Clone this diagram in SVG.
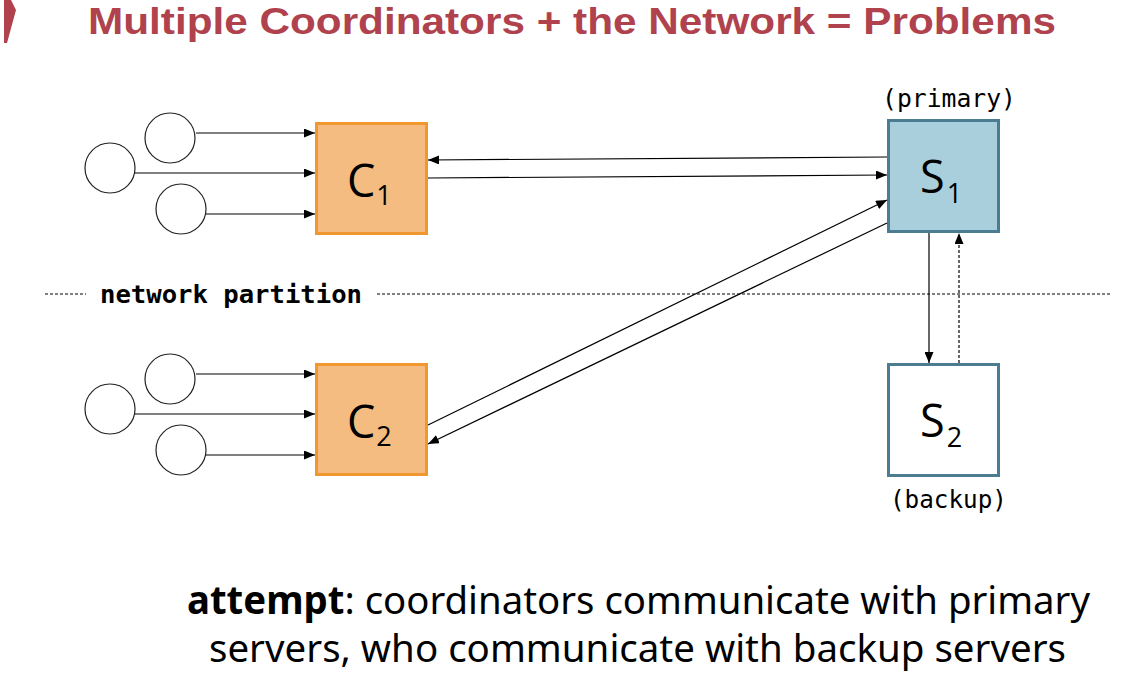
<svg xmlns="http://www.w3.org/2000/svg" width="1130" height="674" viewBox="0 0 1130 674">
<style>
.title{font-family:"Liberation Sans",Arial,sans-serif;font-weight:bold;font-size:36px;fill:#B0424D}
.circ{fill:#fff;stroke:#222;stroke-width:1.2}
.cbox{fill:#F4BC80;stroke:#F0972F;stroke-width:3}
.sbox1{fill:#A9CEDC;stroke:#4B7C91;stroke-width:3}
.sbox2{fill:#fff;stroke:#4B7C91;stroke-width:3}
.lbl{font-family:"Open Sans","Noto Sans",sans-serif;fill:#000}
.big{font-size:45px}
.sub{font-size:27px}
.mono{font-family:"DejaVu Sans Mono","Liberation Mono",monospace;font-size:25px;fill:#000}
.monob{font-family:"DejaVu Sans Mono","Liberation Mono",monospace;font-size:25px;font-weight:bold;fill:#000}
.conn line{stroke:#000;stroke-width:1.2;fill:none}
.dash{stroke:#000;stroke-width:1;stroke-dasharray:3 2;fill:none}
.body{font-family:"Noto Sans","Open Sans",sans-serif;font-size:39px;fill:#000}
</style>
<defs>
<marker id="ah" markerUnits="userSpaceOnUse" markerWidth="11" markerHeight="9" refX="11" refY="4.5" orient="auto">
<path d="M0,0 L11,4.5 L0,9 z" fill="#000"/>
</marker>
</defs>
<polygon points="4,0 11,0 16,10 7,43 4,43" fill="#B0424D"/>
<text class="title" x="88" y="34" textLength="968" lengthAdjust="spacingAndGlyphs">Multiple Coordinators + the Network = Problems</text>

<g id="partition">
<line class="dash" x1="45" y1="294" x2="86" y2="294"/>
<line class="dash" x1="377" y1="294" x2="1110" y2="294"/>
<text class="monob" x="100" y="303" textLength="262" lengthAdjust="spacingAndGlyphs">network partition</text>
</g>

<g id="clients1">
<circle class="circ" cx="170" cy="138" r="25"/>
<circle class="circ" cx="110" cy="168" r="25"/>
<circle class="circ" cx="181" cy="209" r="25"/>
</g>
<g id="clients2">
<circle class="circ" cx="170" cy="379" r="25"/>
<circle class="circ" cx="110" cy="409" r="25"/>
<circle class="circ" cx="181" cy="450" r="25"/>
</g>

<g id="C1">
<rect class="cbox" x="316.5" y="123.5" width="110" height="110"/>
<text class="lbl big" x="347" y="197">C<tspan class="sub" dx="1" y="205">1</tspan></text>
</g>
<g id="C2">
<rect class="cbox" x="316.5" y="364.5" width="110" height="110"/>
<text class="lbl big" x="347" y="438">C<tspan class="sub" dx="1" y="446">2</tspan></text>
</g>
<g id="S1">
<rect class="sbox1" x="888.5" y="120.5" width="110" height="111"/>
<text class="lbl big" x="920" y="193">S<tspan class="sub" dx="2" y="203">1</tspan></text>
<text class="mono" x="882" y="107" textLength="134" lengthAdjust="spacingAndGlyphs">(primary)</text>
</g>
<g id="S2">
<rect class="sbox2" x="888.5" y="364.5" width="110" height="111"/>
<text class="lbl big" x="920" y="437">S<tspan class="sub" dx="2" y="447">2</tspan></text>
<text class="mono" x="890" y="508" textLength="117" lengthAdjust="spacingAndGlyphs">(backup)</text>
</g>

<g id="connectors" class="conn">
<line x1="196" y1="133" x2="315" y2="133" marker-end="url(#ah)"/>
<line x1="135" y1="173" x2="315" y2="173" marker-end="url(#ah)"/>
<line x1="206" y1="214" x2="315" y2="214" marker-end="url(#ah)"/>
<line x1="196" y1="374" x2="315" y2="374" marker-end="url(#ah)"/>
<line x1="135" y1="414" x2="315" y2="414" marker-end="url(#ah)"/>
<line x1="206" y1="455" x2="315" y2="455" marker-end="url(#ah)"/>
<line x1="887" y1="157" x2="428" y2="160" marker-end="url(#ah)"/>
<line x1="428" y1="178" x2="887" y2="175" marker-end="url(#ah)"/>
<line x1="428" y1="425" x2="887" y2="200" marker-end="url(#ah)"/>
<line x1="887" y1="223" x2="428" y2="444" marker-end="url(#ah)"/>
<line x1="929" y1="233" x2="929" y2="363" marker-end="url(#ah)"/>
<line class="dash" x1="959" y1="363" x2="959" y2="233" marker-end="url(#ah)" style="stroke-dasharray:3 2"/>
</g>

<text class="body" x="187" y="614" textLength="903" lengthAdjust="spacingAndGlyphs"><tspan font-weight="bold">attempt</tspan>: coordinators communicate with primary</text>
<text class="body" x="209" y="662" textLength="857" lengthAdjust="spacingAndGlyphs">servers, who communicate with backup servers</text>
</svg>
